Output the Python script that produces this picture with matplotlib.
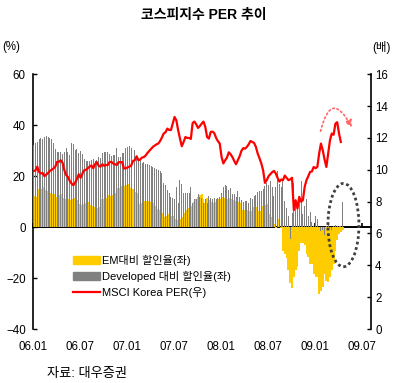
import numpy as np
import matplotlib
matplotlib.use('Agg')
import matplotlib.pyplot as plt
from matplotlib.patches import Patch, Ellipse
from matplotlib.lines import Line2D

plt.rcParams['font.family'] = ['Liberation Sans', 'Noto Sans CJK KR']
plt.rcParams['font.size'] = 8

# weekly data, first week of Jan 2006 onwards
# EM 대비 할인율 (%)
em_disc = [
    10.4, 12.2, 11.7, 14.8, 14.9, 14.8, 15.6, 14.4, 14.2, 13.3,
    13, 13, 13, 11.9, 12.6, 13, 10.9, 11.5, 11.2, 10.9,
    10.5, 9.8, 11.2, 11.6, 10.8, 9, 8.5, 8, 9.2, 9.6,
    9.8, 8.5, 8.5, 8.2, 8, 7.6, 8, 7.8, 11.2, 11.2,
    11.6, 12.5, 12.2, 12.2, 12.5, 13.5, 15.4, 13, 15.4, 16.1,
    16.1, 16.4, 16.9, 15.5, 15.2, 14.8, 13.7, 13.3, 10.4, 9,
    9.3, 10.4, 10.2, 10.4, 10.1, 9.8, 9.4, 8.3, 7.7, 7.2,
    6.7, 5.6, 4.1, 3, 4.3, 5.1, 4.3, 4.5, 3, 1.7,
    2.6, 3, 3.9, 4.9, 5.5, 6.8, 7.7, 8.3, 8.8, 10,
    11, 11.9, 12.5, 13, 11, 9.5, 11.5, 10.5, 9.8, 9,
    9.5, 9.8, 11.2, 11.2, 11.2, 11.8, 11.5, 11.2, 11.5, 11.2,
    10.6, 10.6, 10.2, 9.8, 9.4, 7.7, 6.7, 6.7, 6.7, 6.5,
    6.7, 6.2, 7.8, 7.8, 6.2, 5.9, 6.2, 8.1, 8.5, 9.1,
    7.1, 5.1, 4, 1.2, -0.5, 3.3, 0, -0.5, -9.4, -10.5,
    -12, -17, -22, -23.9, -19.6, -17, -15.7, -9.3, -6.4, -6.2,
    -7, -10.5, -11.8, -14.4, -14.4, -18.4, -19.7, -19.7, -26.2, -24.9,
    -23.6, -18.4, -21, -21.6, -19.7, -17, -14.4, -9.3, -5.2, -2.6,
    -2, -1,
]
# Developed 대비 할인율 (%)
dev_disc = [
    32.3, 33, 33.6, 34.5, 35, 34.5, 35.5, 35.8, 35.3, 35,
    34.5, 33, 30.6, 29.3, 29.3, 29.3, 28.7, 29.3, 31, 29.5,
    28.5, 33.2, 32.5, 30.3, 30.5, 29, 30, 28.7, 26.6, 26.1,
    26.1, 26, 26.5, 26.9, 26, 26.5, 27.5, 27, 29, 29.3,
    29.3, 29.3, 28.7, 28, 28.5, 28.5, 31.1, 27.7, 27.7, 29,
    29, 31.1, 31.6, 32, 31.1, 30.6, 30.3, 27.5, 26.4, 26.7,
    25.3, 25.5, 24.8, 24.8, 24.4, 24, 23.8, 23.2, 23, 22.4,
    21.9, 21.4, 17.2, 16.4, 14.6, 13.5, 11.9, 11.5, 11.2, 15.9,
    9.3, 18.5, 16.9, 13.3, 13.3, 13.3, 13.3, 15.6, 9.3, 11.2,
    11.2, 13, 12, 11.5, 9.3, 11.2, 9.3, 12.2, 11.5, 11,
    11.5, 11.2, 11.5, 11.8, 13.3, 15.6, 16.4, 16, 14.4, 15.2,
    13, 13, 12, 14.2, 12, 10.6, 9.8, 10.4, 10.4, 9.3,
    11.5, 11.2, 12.1, 12.5, 13.8, 14, 14.3, 15.1, 16.1, 17.2,
    16.4, 18, 15.6, 12.1, 15.9, 22.2, 17, 15.9, 18.5, 10.4,
    7.7, 4.3, -4.6, 5.4, 17.2, 10.6, 7.5, 11, 18, 5,
    8.1, 11, 4.3, 6, 1.9, 0.4, 4.3, 3, 0, -1.7,
    -1, -3, 0.5, 1.3, -0.5, -1, 0.5, 1, 0.5, 0.5,
    0.5, 10,
]
# MSCI Korea PER (배)
per = [
    9.93, 9.95, 10.2, 9.87, 9.77, 9.8, 9.6, 9.7, 9.8, 9.93,
    10.0, 10.08, 10.2, 10.5, 10.5, 10.6, 10.45, 9.98, 9.68, 9.55,
    9.3, 9.14, 9.03, 9.2, 9.43, 9.72, 9.5, 9.77, 9.97, 10.0,
    10.1, 10.2, 10.27, 10.1, 10.35, 10.48, 10.25, 10.2, 10.35, 10.25,
    10.3, 10.3, 10.48, 10.5, 10.4, 10.35, 10.3, 10.48, 10.48, 10.48,
    10.08, 10.1, 10.15, 10.2, 10.27, 10.56, 10.6, 10.85, 10.6, 10.65,
    10.77, 10.8, 10.9, 11.06, 11.19, 11.33, 11.44, 11.52, 11.6, 11.65,
    11.81, 12.03, 12.28, 12.36, 12.59, 12.5, 12.5, 12.9, 13.32, 13.1,
    12.48, 11.96, 11.48, 11.75, 12.06, 12.0, 12.0, 11.94, 12.94, 13.03,
    12.85, 12.63, 12.75, 12.9, 13.03, 12.7, 12.06, 11.96, 12.38, 12.4,
    12.3, 12.0, 11.8, 11.65, 10.81, 10.4, 10.6, 10.77, 11.1, 10.98,
    10.8, 10.56, 10.35, 10.6, 10.85, 11.19, 11.36, 11.33, 11.44, 11.6,
    11.81, 11.75, 11.69, 11.44, 11.02, 10.73, 10.4, 9.97, 9.18, 9.35,
    9.6, 9.72, 9.85, 9.93, 9.77, 9.5, 9.26, 9.39, 9.35, 9.64,
    9.5, 9.35, 9.4, 9.5, 7.47, 8.09, 7.57, 8.3, 8.0, 8.09,
    8.93, 9.35, 9.6, 9.87, 9.9, 10.18, 10.1, 10.18, 11.02, 11.65,
    11.23, 10.65, 10.18, 11.02, 11.86, 12.28, 12.2, 12.9, 12.99, 12.28,
    11.75,
]

tick_pos = [0, 6, 12, 18, 24, 30, 36, 42]
tick_labels = ['06.01', '06.07', '07.01', '07.07', '08.01', '08.07', '09.01', '09.07']

wk = 12 / 52  # one week in months
x_bar = (np.arange(len(em_disc)) + 0.5) * wk
x_per = (np.arange(len(per)) + 0.5) * wk

ylo, yhi = -40, 60

fig = plt.figure(figsize=(3.99, 3.83), dpi=100)
ax = fig.add_axes([32.7 / 399, 1 - 329 / 383, 338.3 / 399, 254.7 / 383])

ax.bar(x_bar, em_disc, width=wk * 1.05, color='#ffcc00', linewidth=0,
       antialiased=False, zorder=2)
ax.bar(x_bar, dev_disc, width=wk * 0.55, color='#808080', linewidth=0,
       antialiased=False, zorder=3)

ax.set_xlim(0, 43.2)
ax.set_ylim(ylo, yhi)
ax.set_yticks(range(-40, 61, 20))
ax.tick_params(axis='y', direction='in', length=3, width=1, pad=5, labelsize=8.3)
ax.set_xticks(tick_pos)
ax.set_xticklabels(tick_labels)
ax.tick_params(axis='x', length=0, pad=9, labelsize=8.3)
for s in ['top', 'right', 'bottom']:
    ax.spines[s].set_visible(False)
ax.spines['left'].set_linewidth(1.2)

# zero line with month ticks
sec = ax.secondary_xaxis((0 - ylo) / (yhi - ylo))
sec.set_xticks(tick_pos)
sec.tick_params(direction='in', length=3, width=1.2, labelbottom=False, labeltop=False)
sec.spines['bottom'].set_linewidth(1.4)
sec.spines['top'].set_linewidth(1.4)

# highlight
ax.add_patch(Ellipse((39.68, 0.8), 3.96, 32.7, fill=False, edgecolor='#404040',
                     linestyle=(0, (1, 1)), linewidth=2, zorder=5))
ax.annotate('', xy=(40.9, 38.2), xytext=(36.68, 36.6),
            arrowprops=dict(arrowstyle='-|>,head_length=0.5,head_width=0.25',
                            connectionstyle='arc3,rad=-1.4', linestyle=':',
                            color='#ff6666', lw=1.2))

ax2 = ax.twinx()
ax2.plot(x_per, per, color='#ff0000', lw=1.6, zorder=4)
ax2.set_ylim(0, 16)
ax2.set_yticks(range(0, 17, 2))
ax2.tick_params(axis='y', direction='in', length=3, width=1, pad=3, labelsize=8.3)
for s in ['top', 'left', 'bottom']:
    ax2.spines[s].set_visible(False)
ax2.spines['right'].set_linewidth(1.2)

handles = [Patch(color='#ffcc00'), Patch(color='#808080'), Line2D([], [], color='#ff0000', lw=1.6)]
labels = ['EM대비 할인율(좌)', 'Developed 대비 할인율(좌)', 'MSCI Korea PER(우)']
ax2.legend(handles, labels, loc='upper left', bbox_to_anchor=(0.119, 0.29),
           frameon=False, borderpad=0, borderaxespad=0, handlelength=2.4,
           handletextpad=0.25, labelspacing=0.45, fontsize=8)

fig.text(0.51, 1 - 15 / 383, '코스피지수 PER 추이', ha='center', va='center',
         fontsize=10, fontweight='bold')
fig.text(2 / 399, 1 - 47 / 383, '(%)', ha='left', va='center', fontsize=8.3)
fig.text(372 / 399, 1 - 47 / 383, '(배)', ha='left', va='center', fontsize=8.3)
fig.text(47 / 399, 1 - 374 / 383, '자료: 대우증권', ha='left', va='center', fontsize=9.5)

fig.savefig('out.png', dpi=100)
